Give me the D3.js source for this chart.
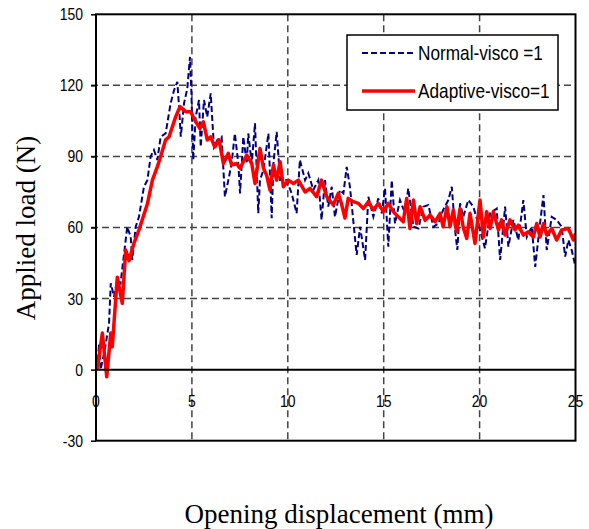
<!DOCTYPE html>
<meta charset="utf-8">
<script src="https://d3js.org/d3.v7.min.js"></script>
<style>
  body { margin: 0; background: #fff; }
  .tick-label { font-family: "Liberation Sans", Arial, sans-serif; font-size: 17px; fill: #000; }
  .legend-text { font-family: "Liberation Sans", Arial, sans-serif; font-size: 21px; fill: #000; }
  .axis-title { font-family: "Liberation Serif", "Times New Roman", serif; font-size: 27px; fill: #000; }
</style>
<div id="chart"></div>
<script>
  // tick values
  var xTicks = [0, 5, 10, 15, 20, 25];
  var yTicks = [-30, 0, 30, 60, 90, 120, 150];

  // Normal-visco =1 (blue dashed)
  var normalDisp = [0.07, 0.16, 0.24, 0.45, 0.68, 0.77, 0.94, 1.11, 1.28, 1.63, 1.81, 1.89, 2.07, 2.24, 2.5, 2.68, 2.85,
    3.02, 3.2, 3.37, 3.63, 3.89, 4.07, 4.24, 4.33, 4.42, 4.59, 4.76, 4.9, 4.97, 5.07, 5.2, 5.37, 5.46, 5.63, 5.8, 5.98,
    6.15, 6.33, 6.55, 6.72, 6.9, 7.07, 7.24, 7.42, 7.51, 7.68, 7.86, 7.94, 8.12, 8.29, 8.46, 8.55, 8.73, 8.99, 9.16,
    9.25, 9.42, 9.6, 9.94, 10.2, 10.46, 10.63, 10.9, 11.07, 11.33, 11.59, 11.76, 11.94, 12.11, 12.29, 12.46, 12.72,
    12.9, 13.07, 13.24, 13.59, 13.77, 14.03, 14.2, 14.46, 14.72, 14.9, 15.07, 15.24, 15.42, 15.59, 15.85, 16.11, 16.28,
    16.55, 16.81, 17.07, 17.33, 17.59, 17.85, 18.1, 18.37, 18.55, 18.72, 18.84, 18.98, 19.15, 19.41, 19.67, 19.93,
    20.28, 20.55, 20.89, 21.07, 21.33, 21.5, 21.76, 22.02, 22.28, 22.46, 22.72, 22.9, 23.15, 23.33, 23.5, 23.76,
    24.02, 24.28, 24.46, 24.63, 24.8, 25];
  var normalLoad = [0, 11, 0, 8, 19.6, 36.5, 30.8, 37.8, 36.4, 60.3, 56, 46.3, 60.3, 64.5, 77.2, 80, 90,
    92.7, 88.5, 98.3, 99.7, 112.4, 118, 121.5, 111, 98.3, 112.4, 118.7, 132, 118, 88.5, 106.7, 113.8, 94, 113.8, 106.7, 116.6,
    94, 97, 98.3, 73, 80, 87, 99.7, 87, 74.4, 98.3, 87, 99.7, 87, 104, 66, 80, 84.3, 99.7, 63.9,
    87, 100.4, 80, 80, 74.4, 66, 88.5, 80, 82.9, 75.8, 80, 63.2, 80, 68.8, 77.2, 64.5, 75.8,
    74.4, 85.6, 77.2, 48.4, 60.3, 46.3, 73, 64.5, 72.3, 66, 76.5, 51.9, 80, 61.7, 71.6, 66, 76.5,
    60.3, 59.6, 68.8, 69.5, 60.3, 61.7, 67.4, 71.6, 77.2, 59, 50.5, 70.2, 64.5, 71.6, 68.8, 61.7,
    51.2, 66, 68, 46.3, 68.8, 51.9, 63.2, 54.7, 71.6, 56, 60.3, 43.4, 61.7, 73.7, 50.5, 64.5,
    63.2, 60.3, 47.7, 54.7, 50.5, 43.4];

  // Adaptive-visco=1 (red solid)
  var adaptiveDisp = [0.07, 0.33, 0.56, 0.77, 0.85, 1.11, 1.37, 1.55, 1.72, 1.98, 2.24, 2.68, 2.94, 3.2, 3.37, 3.63, 3.81,
    4.15, 4.38, 4.68, 4.94, 5.11, 5.42, 5.6, 5.8, 5.98, 6.19, 6.42, 6.64, 6.9, 7.07, 7.33, 7.51, 7.86, 8.12, 8.29,
    8.55, 8.73, 8.9, 9.07, 9.25, 9.42, 9.6, 9.77, 10.03, 10.29, 10.55, 10.9, 11.16, 11.5, 11.76, 12.03, 12.37, 12.63,
    12.8, 12.98, 13.15, 13.42, 13.68, 13.94, 14.2, 14.46, 14.72, 14.98, 15.24, 15.5, 15.76, 16.02, 16.2, 16.37, 16.55,
    16.72, 16.9, 17.16, 17.42, 17.68, 17.94, 18.1, 18.3, 18.46, 18.63, 18.8, 18.98, 19.15, 19.33, 19.5, 19.76, 20.02,
    20.2, 20.37, 20.55, 20.72, 20.98, 21.15, 21.33, 21.58, 21.85, 22.02, 22.28, 22.54, 22.8, 22.98, 23.15, 23.33,
    23.5, 23.76, 24.02, 24.28, 24.63, 24.89, 25];
  var adaptiveLoad = [0, 15.5, -3, 15.5, 9.7, 39, 28, 50.5, 46, 53.4, 59, 70, 80, 85.7, 90, 97, 98.3,
    106.7, 111, 108.9, 108.9, 106, 101.8, 104.6, 97, 98.3, 94, 97, 87, 91.3, 86.4, 87, 85, 90.6, 87, 78.6,
    93.4, 85, 82, 75.8, 86.4, 80, 87.8, 77.2, 80, 78.6, 80, 75, 76.5, 73, 80, 73, 69.5, 74.4,
    70, 64, 72.3, 70.9, 70.2, 68, 70.9, 67.4, 70.2, 66.7, 70.2, 66.7, 64.5, 62.4, 72.3, 59.6, 71.6,
    61.7, 68.8, 63, 65.3, 62.4, 66, 60.3, 68.8, 60.3, 67.4, 58.3, 68, 60, 55.4, 66, 53.3, 71.6,
    56, 66.7, 59.6, 66.7, 59, 63.2, 56.8, 63.2, 59, 61, 56.8, 58.2, 56, 61.7, 56, 61.7,
    56.8, 59.6, 54.7, 59, 59.6, 54.7, 57.5];

  var W = 589, H = 529;
  var svg = d3.select("#chart").append("svg")
    .attr("width", W)
    .attr("height", H);

  var x = d3.scaleLinear().domain([0, 25]).range([96, 575.5]);
  var y = d3.scaleLinear().domain([-30, 150]).range([440.7, 14.3]);

  // squeeze sans text to look like a narrow face
  function narrow(sel) {
    sel.each(function() {
      var w = this.getComputedTextLength();
      d3.select(this).attr("textLength", w * 0.82).attr("lengthAdjust", "spacingAndGlyphs");
    });
  }

  // grid lines
  svg.append("g").selectAll("line")
    .data(yTicks.filter(function(d) { return d != 0 && d != -30 && d != 150; }))
    .enter().append("line")
    .attr("x1", x(0) - 5).attr("x2", x(25))
    .attr("y1", function(d) { return y(d); }).attr("y2", function(d) { return y(d); })
    .attr("stroke", "#444").attr("stroke-width", 1.5).attr("stroke-dasharray", "7,4");
  svg.append("g").selectAll("line")
    .data(xTicks.filter(function(d) { return d != 0 && d != 25; }))
    .enter().append("line")
    .attr("x1", function(d) { return x(d); }).attr("x2", function(d) { return x(d); })
    .attr("y1", y(150)).attr("y2", y(-30))
    .attr("stroke", "#444").attr("stroke-width", 1.5).attr("stroke-dasharray", "7,4");

  // y axis with outward ticks
  var yAxis = svg.append("g")
    .attr("transform", "translate(" + x(0) + ",0)")
    .call(d3.axisLeft(y).tickValues(yTicks).tickSize(5).tickPadding(8).tickSizeOuter(0)
      .tickFormat(function(d) { return String(d); }));
  yAxis.select(".domain").remove();
  yAxis.attr("font-family", null).attr("font-size", null);
  yAxis.selectAll(".tick line").attr("stroke", "#000").attr("stroke-width", 1.5);
  yAxis.selectAll(".tick text").attr("class", "tick-label").call(narrow);

  // x tick labels sit just under the zero line
  svg.append("g").selectAll("text")
    .data(xTicks)
    .enter().append("text")
    .attr("class", "tick-label")
    .attr("x", function(d) { return x(d); })
    .attr("y", y(0) + 37)
    .attr("text-anchor", "middle")
    .text(function(d) { return d; })
    .call(narrow);

  // lines
  var line = d3.line()
    .x(function(d) { return x(d[0]); })
    .y(function(d) { return y(d[1]); });

  var normalData = normalDisp.map(function(d, i) { return [d, normalLoad[i]]; });
  var adaptiveData = adaptiveDisp.map(function(d, i) { return [d, adaptiveLoad[i]]; });

  svg.append("defs").append("clipPath").attr("id", "clip")
    .append("rect").attr("x", x(0)).attr("y", y(150)).attr("width", x(25) - x(0)).attr("height", y(-30) - y(150));

  svg.append("path")
    .datum(normalData)
    .attr("clip-path", "url(#clip)")
    .attr("d", line)
    .attr("fill", "none")
    .attr("stroke", "#000080")
    .attr("stroke-width", 2)
    .attr("stroke-dasharray", "6,3");

  svg.append("path")
    .datum(adaptiveData)
    .attr("clip-path", "url(#clip)")
    .attr("d", line)
    .attr("fill", "none")
    .attr("stroke", "#ff0000")
    .attr("stroke-width", 3.5)
    .attr("stroke-linejoin", "round");

  // zero line and frame
  svg.append("line")
    .attr("x1", x(0)).attr("x2", x(25))
    .attr("y1", y(0)).attr("y2", y(0))
    .attr("stroke", "#000").attr("stroke-width", 2);
  svg.append("rect")
    .attr("x", x(0)).attr("y", y(150))
    .attr("width", x(25) - x(0)).attr("height", y(-30) - y(150))
    .attr("fill", "none").attr("stroke", "#000").attr("stroke-width", 2);

  // legend
  var legend = svg.append("g");
  legend.append("rect")
    .attr("x", 347).attr("y", 35).attr("width", 211).attr("height", 75)
    .attr("fill", "#fff").attr("stroke", "#000").attr("stroke-width", 1.5);
  legend.append("line")
    .attr("x1", 362).attr("x2", 415).attr("y1", 53).attr("y2", 53)
    .attr("stroke", "#000080").attr("stroke-width", 2).attr("stroke-dasharray", "6,3");
  legend.append("line")
    .attr("x1", 362).attr("x2", 415).attr("y1", 91).attr("y2", 91)
    .attr("stroke", "#ff0000").attr("stroke-width", 3.5);
  legend.append("text").attr("class", "legend-text").attr("x", 418).attr("y", 60).text("Normal-visco =1").call(narrow);
  legend.append("text").attr("class", "legend-text").attr("x", 418).attr("y", 98).text("Adaptive-visco=1").call(narrow);

  // axis titles
  svg.append("text")
    .attr("class", "axis-title")
    .attr("text-anchor", "middle")
    .attr("transform", "translate(35,228) rotate(-90)")
    .text("Applied load (N)");
  svg.append("text")
    .attr("class", "axis-title")
    .attr("text-anchor", "middle")
    .attr("x", 339).attr("y", 523)
    .text("Opening displacement (mm)");
</script>
